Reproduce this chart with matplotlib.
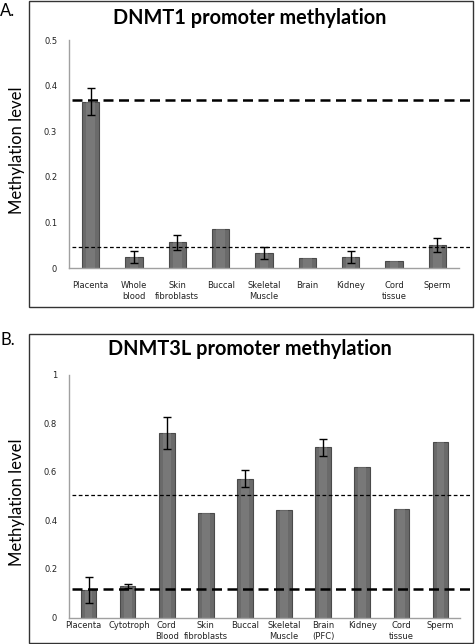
import matplotlib
matplotlib.use("Agg")
import matplotlib.pyplot as plt
from matplotlib.patches import Rectangle
import matplotlib.transforms as mtransforms
import numpy as np

plt.rcParams['font.family'] = ['Lato', 'DejaVu Sans']

# Panel A data
cats_a = ["Placenta", "Whole\nblood", "Skin\nfibroblasts", "Buccal", "Skeletal\nMuscle",
          "Brain", "Kidney", "Cord\ntissue", "Sperm"]
vals_a = [0.365, 0.024, 0.056, 0.085, 0.033, 0.022, 0.024, 0.016, 0.050]
err_a = [0.030, 0.014, 0.017, np.nan, 0.013, np.nan, 0.014, np.nan, 0.015]
ref_thick_a = 0.368
ref_thin_a = 0.045
yticks_a = [0, 0.1, 0.2, 0.3, 0.4, 0.5]
yticklabels_a = ["0", "0.1", "0.2", "0.3", "0.4", "0.5"]

# Panel B data
cats_b = ["Placenta", "Cytotroph", "Cord\nBlood", "Skin\nfibroblasts", "Buccal", "Skeletal\nMuscle",
          "Brain\n(PFC)", "Kidney", "Cord\ntissue", "Sperm"]
vals_b = [0.113, 0.128, 0.760, 0.431, 0.572, 0.442, 0.700, 0.620, 0.448, 0.723]
err_b = [0.055, 0.008, 0.065, np.nan, 0.033, np.nan, 0.035, np.nan, np.nan, np.nan]
ref_thick_b = 0.117
ref_thin_b = 0.504
yticks_b = [0, 0.2, 0.4, 0.6, 0.8, 1.0]
yticklabels_b = ["0", "0.2", "0.4", "0.6", "0.8", "1"]

W, H = 477, 644
fig = plt.figure(figsize=(W / 100, H / 100), dpi=100)

def fx(px):
    return px / W

def fy(py):
    return 1 - py / H

# Frames
fig.patches.append(Rectangle((fx(29), fy(307)), fx(444), 306 / H, transform=fig.transFigure,
                             fill=False, edgecolor='#333333', linewidth=1.0, zorder=0))
fig.patches.append(Rectangle((fx(29), fy(643)), fx(444), 309 / H, transform=fig.transFigure,
                             fill=False, edgecolor='#333333', linewidth=1.0, zorder=0))

TICKFONT = ['DejaVu Sans']

def panel(rect, cats, vals, errs, thick, thin, yticks, yticklabels, ylim, xpad, xr):
    ax = fig.add_axes(rect)
    x = np.arange(len(cats))
    ax.bar(x, vals, width=0.4, color='#6a6a6a', edgecolor='#4a4a4a', linewidth=0.8, zorder=2)
    # highlight
    ax.bar(x, vals, width=0.2, color='#8a8a8a', edgecolor='none', zorder=2.5, alpha=0.45)
    e = np.array(errs, dtype=float)
    m = ~np.isnan(e)
    ax.errorbar(x[m], np.array(vals)[m], yerr=e[m], fmt='none', ecolor='black',
                elinewidth=1.0, capsize=3, capthick=1.0, zorder=3)
    ax.set_xlim(-0.5, len(cats) - 0.5)
    ax.set_ylim(*ylim)
    ax.set_yticks(yticks)
    ax.set_yticklabels(yticklabels, family=TICKFONT, fontsize=6, color='#222222')
    ax.set_xticks(x)
    ax.set_xticklabels(cats, linespacing=1.35, family=TICKFONT, fontsize=6, color='#222222')
    ax.tick_params(axis='y', length=0, pad=8.5)
    ax.tick_params(axis='x', length=0, pad=xpad)
    for s in ['top', 'right']:
        ax.spines[s].set_visible(False)
    for s in ['left', 'bottom']:
        ax.spines[s].set_color('#a0a0a0')
        ax.spines[s].set_linewidth(1.0)
    ax.axhline(thick, xmin=0.008, xmax=xr, color='black', linestyle=(0, (4, 2.2)),
               linewidth=1.8, clip_on=False, zorder=4)
    ax.axhline(thin, xmin=0.008, xmax=xr, color='black', linestyle=(0, (3, 2)),
               linewidth=0.9, clip_on=False, zorder=4)
    ax.patch.set_alpha(0)
    return ax

axA = panel([fx(69), fy(268), fx(390), 228 / H], cats_a, vals_a, err_a, ref_thick_a, ref_thin_a,
            yticks_a, yticklabels_a, (0, 0.5), 9, 1.031)
axB = panel([fx(69), fy(617.5), fx(391), 243 / H], cats_b, vals_b, err_b, ref_thick_b, ref_thin_b,
            yticks_b, yticklabels_b, (0, 1.0), 2.5, 1.028)

# nudge crowded first labels in panel B apart
labs = axB.get_xticklabels()
labs[0].set_transform(labs[0].get_transform() + mtransforms.ScaledTranslation(-5 / 100, 0, fig.dpi_scale_trans))
labs[1].set_transform(labs[1].get_transform() + mtransforms.ScaledTranslation(2 / 100, 0, fig.dpi_scale_trans))

fig.text(fx(250), fy(18), "DNMT1 promoter methylation", ha='center', va='center',
         fontsize=14.3, fontweight='bold')
fig.text(fx(250), fy(349), "DNMT3L promoter methylation", ha='center', va='center',
         fontsize=14.3, fontweight='bold')
fig.text(fx(0), fy(11), "A.", ha='left', va='center', fontsize=12)
fig.text(fx(0), fy(340), "B.", ha='left', va='center', fontsize=12)
fig.text(fx(17), fy(150), "Methylation level", ha='center', va='center', rotation=90, fontsize=12)
fig.text(fx(17), fy(502), "Methylation level", ha='center', va='center', rotation=90, fontsize=12)

fig.savefig("out.png", dpi=100)
